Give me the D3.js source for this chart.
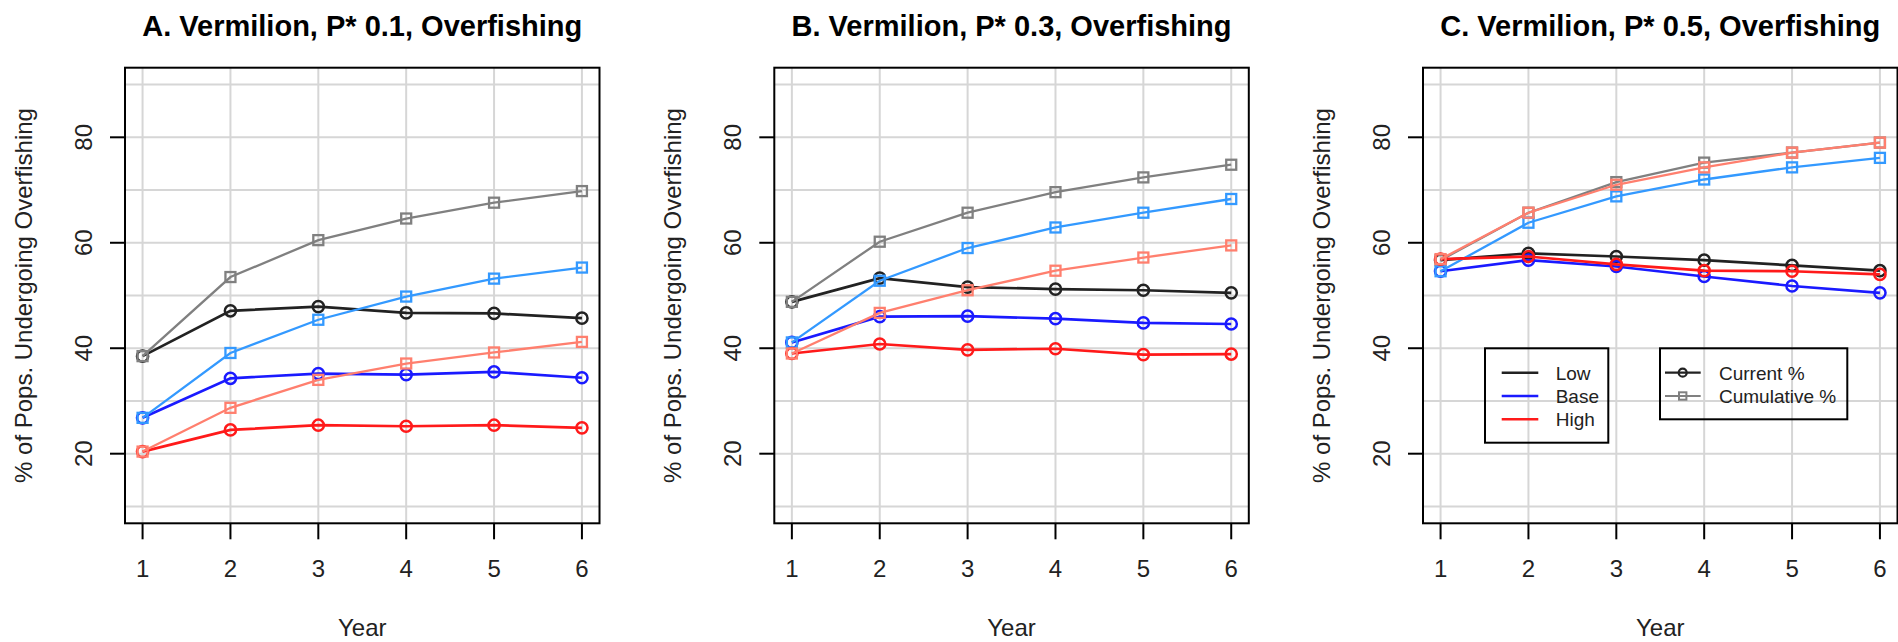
<!DOCTYPE html>
<html lang="en">
<head>
    <meta charset="UTF-8">
    <title>Vermilion Overfishing</title>
    <script src="https://d3js.org/d3.v7.min.js"></script>
    <style>
        body { margin: 0; background: white; font-family: "Liberation Sans", Arial, sans-serif; }
        svg { display: block; }
        .grid line { stroke: #d6d6d6; stroke-width: 2; }
        .frame { fill: none; stroke: #000; stroke-width: 2; }
        .tick-line { stroke: #000; stroke-width: 2; }
        .title { font-size: 29px; font-weight: bold; text-anchor: middle; }
        .tick-label { font-size: 24px; fill: #222; }
        .axis-title { font-size: 24px; fill: #222; text-anchor: middle; }
        .legend-text { font-size: 19px; fill: #222; }
    </style>
</head>
<body>
<svg id="chart" width="1898" height="642"></svg>
<script>
    // data
    const years = [1, 2, 3, 4, 5, 6];
    const titles = ["A. Vermilion, P* 0.1, Overfishing", "B. Vermilion, P* 0.3, Overfishing", "C. Vermilion, P* 0.5, Overfishing"];
    const yTicks = [20, 40, 60, 80];
    const yGrid = [10, 20, 30, 40, 50, 60, 70, 80, 90];
    const scenarios = ["Low", "Base", "High"];
    const measures = ["Current %", "Cumulative %"];

    const lowCurA = [38.5, 47.1, 47.9, 46.7, 46.6, 45.7];
    const lowCumA = [38.5, 53.5, 60.5, 64.6, 67.6, 69.8];
    const baseCurA = [26.8, 34.3, 35.2, 35.0, 35.5, 34.4];
    const baseCumA = [26.8, 39.1, 45.4, 49.8, 53.2, 55.3];
    const highCurA = [20.4, 24.5, 25.4, 25.2, 25.4, 24.9];
    const highCumA = [20.4, 28.7, 34.0, 37.1, 39.2, 41.2];

    const lowCurB = [48.8, 53.3, 51.6, 51.2, 51.0, 50.5];
    const lowCumB = [48.8, 60.2, 65.7, 69.6, 72.4, 74.8];
    const baseCurB = [41.1, 46.0, 46.1, 45.6, 44.8, 44.6];
    const baseCumB = [41.1, 52.8, 59.0, 62.9, 65.7, 68.3];
    const highCurB = [39.0, 40.8, 39.7, 39.9, 38.8, 38.9];
    const highCumB = [39.0, 46.7, 51.0, 54.7, 57.2, 59.5];

    const lowCurC = [56.7, 58.0, 57.4, 56.7, 55.7, 54.7];
    const lowCumC = [56.7, 65.7, 71.5, 75.2, 77.1, 79.0];
    const baseCurC = [54.6, 56.7, 55.5, 53.6, 51.8, 50.5];
    const baseCumC = [54.6, 63.8, 68.8, 72.0, 74.3, 76.1];
    const highCurC = [56.9, 57.4, 55.9, 54.7, 54.6, 54.0];
    const highCumC = [56.9, 65.7, 71.0, 74.3, 77.1, 79.0];

    const panelSeries = [
        [[lowCurA, lowCumA], [baseCurA, baseCumA], [highCurA, highCumA]],
        [[lowCurB, lowCumB], [baseCurB, baseCumB], [highCurB, highCumB]],
        [[lowCurC, lowCumC], [baseCurC, baseCumC], [highCurC, highCumC]]
    ];

    // colours: [current, cumulative] per scenario
    const colors = [["#222222", "#808080"], ["#1a1aff", "#3399ff"], ["#ff1a1a", "#ff7f6e"]];

    const svg = d3.select("#chart");
    const panelLeft = [125, 774.3, 1423];
    const plotW = 474.5, plotTop = 67.7, plotBottom = 523.3;

    panelLeft.forEach((left, p) => {
        const x = d3.scaleLinear().domain([0.8, 6.2]).range([left, left + plotW]);
        const y = d3.scaleLinear().domain([6.8, 93.2]).range([plotBottom, plotTop]);
        const g = svg.append("g");

        // grid
        const grid = g.append("g").attr("class", "grid");
        grid.selectAll(".gx").data(years).enter().append("line")
            .attr("x1", d => x(d)).attr("x2", d => x(d))
            .attr("y1", plotTop).attr("y2", plotBottom);
        grid.selectAll(".gy").data(yGrid).enter().append("line")
            .attr("x1", left).attr("x2", left + plotW)
            .attr("y1", d => y(d)).attr("y2", d => y(d));

        // series
        const line = d3.line().x((d, i) => x(years[i])).y(d => y(d));
        panelSeries[p].forEach((pair, s) => {
            pair.forEach((vals, m) => {
                const col = colors[s][m];
                g.append("path").datum(vals)
                    .attr("d", line)
                    .attr("fill", "none")
                    .attr("stroke", col)
                    .attr("stroke-width", m === 0 ? 2.7 : 2.3);
                if (m === 0) {
                    g.selectAll(null).data(vals).enter().append("circle")
                        .attr("cx", (d, i) => x(years[i])).attr("cy", d => y(d))
                        .attr("r", 5.6).attr("fill", "none")
                        .attr("stroke", col).attr("stroke-width", 2.5);
                } else {
                    g.selectAll(null).data(vals).enter().append("rect")
                        .attr("x", (d, i) => x(years[i]) - 5).attr("y", d => y(d) - 5)
                        .attr("width", 10).attr("height", 10).attr("fill", "none")
                        .attr("stroke", col).attr("stroke-width", 2.3);
                }
            });
        });

        // frame and ticks
        g.append("rect").attr("class", "frame")
            .attr("x", left).attr("y", plotTop).attr("width", plotW).attr("height", plotBottom - plotTop);
        g.selectAll(".xt").data(years).enter().append("line").attr("class", "tick-line")
            .attr("x1", d => x(d)).attr("x2", d => x(d))
            .attr("y1", plotBottom).attr("y2", plotBottom + 16);
        g.selectAll(".xl").data(years).enter().append("text").attr("class", "tick-label")
            .attr("x", d => x(d)).attr("y", 577).attr("text-anchor", "middle")
            .text(d => d);
        g.selectAll(".yt").data(yTicks).enter().append("line").attr("class", "tick-line")
            .attr("x1", left - 15).attr("x2", left)
            .attr("y1", d => y(d)).attr("y2", d => y(d));
        g.selectAll(".yl").data(yTicks).enter().append("text").attr("class", "tick-label")
            .attr("transform", d => `translate(${left - 33},${y(d)}) rotate(-90)`)
            .attr("text-anchor", "middle")
            .text(d => d);

        // titles
        const cx = left + plotW / 2;
        g.append("text").attr("class", "title").attr("x", cx).attr("y", 36).text(titles[p]);
        g.append("text").attr("class", "axis-title").attr("x", cx).attr("y", 636).text("Year");
        g.append("text").attr("class", "axis-title")
            .attr("transform", `translate(${left - 93},${(plotTop + plotBottom) / 2}) rotate(-90)`)
            .text("% of Pops. Undergoing Overfishing");

        // legends on the last panel
        if (p === 2) {
            const lg = g.append("g");
            lg.append("rect").attr("class", "frame")
                .attr("x", 1485).attr("y", 348.3).attr("width", 123.3).attr("height", 94.4);
            scenarios.forEach((name, i) => {
                const ly = 372.7 + i * 23.3;
                lg.append("line").attr("x1", 1501.7).attr("x2", 1538.3)
                    .attr("y1", ly).attr("y2", ly)
                    .attr("stroke", colors[i][0]).attr("stroke-width", 2.6);
                lg.append("text").attr("class", "legend-text")
                    .attr("x", 1555.7).attr("y", ly + 7).text(name);
            });
            lg.append("rect").attr("class", "frame")
                .attr("x", 1660).attr("y", 348.3).attr("width", 187.3).attr("height", 71);
            measures.forEach((name, i) => {
                const ly = 372.7 + i * 23.3;
                const col = i === 0 ? colors[0][0] : colors[0][1];
                lg.append("line").attr("x1", 1665).attr("x2", 1700.7)
                    .attr("y1", ly).attr("y2", ly)
                    .attr("stroke", col).attr("stroke-width", 2.2);
                if (i === 0) {
                    lg.append("circle").attr("cx", 1682.7).attr("cy", ly).attr("r", 4)
                        .attr("fill", "none").attr("stroke", col).attr("stroke-width", 2.2);
                } else {
                    lg.append("rect").attr("x", 1679).attr("y", ly - 3.7)
                        .attr("width", 7.4).attr("height", 7.4)
                        .attr("fill", "none").attr("stroke", col).attr("stroke-width", 2);
                }
                lg.append("text").attr("class", "legend-text")
                    .attr("x", 1719).attr("y", ly + 7).text(name);
            });
        }
    });
</script>
</body>
</html>
